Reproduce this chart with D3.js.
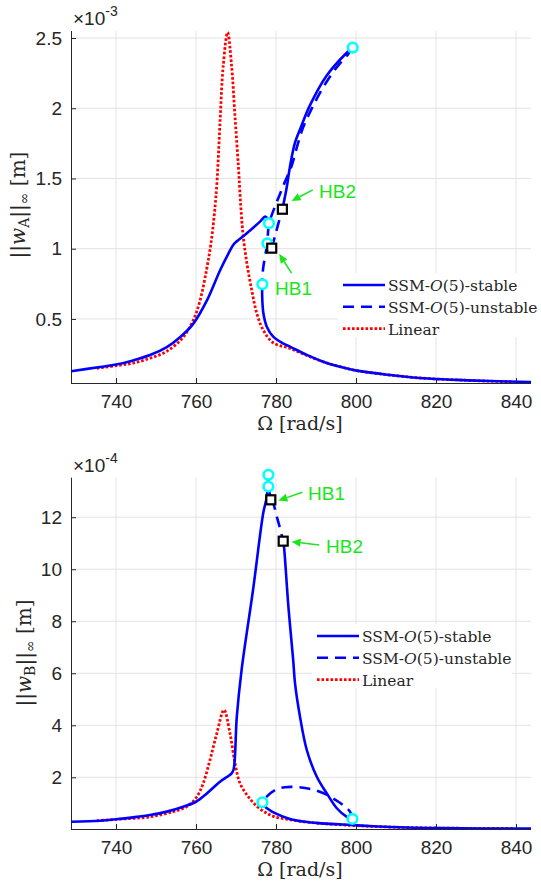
<!DOCTYPE html>
<html><head><meta charset="utf-8">
<script src="https://cdn.jsdelivr.net/npm/d3@7"></script>
<style>body{margin:0;background:#fff}svg{display:block}</style>
</head><body>
<svg id="c" width="541" height="891"></svg>
<script>
// ---------- data ----------
const omegaTicks = [740, 760, 780, 800, 820, 840];
const ampATicks = [0.5, 1, 1.5, 2, 2.5];
const ampBTicks = [2, 4, 6, 8, 10, 12];
const legendLabels = ["stable", "unstable", "Linear"];

// Top panel (||w_A||, x 1e-3 m)
const topLinear = [[735.2,0.149],[740,0.167],[744.3,0.186],[748.5,0.22],[752.7,0.27],[756.8,0.37],[759.3,0.49],[761,0.63],[762.7,0.86],[763.7,1.03],[764.6,1.25],[765.3,1.5],[766,1.9],[766.8,2.3],[767.9,2.54],[768.9,2.3],[769.75,1.94],[770.6,1.585],[771.2,1.3],[771.8,1.09],[772.7,0.9],[773.9,0.71],[775.2,0.54],[776.8,0.422],[779.3,0.33],[783.5,0.29],[787.7,0.24],[791.8,0.195],[796,0.16],[800.2,0.132],[808.5,0.101],[816.8,0.078],[825.2,0.066],[833.5,0.057],[839.3,0.052]];
const topStableLeft = [[728.75,0.128],[736,0.158],[740,0.175],[744.3,0.205],[748.5,0.243],[752.7,0.3],[756,0.37],[759.3,0.465],[762.7,0.63],[766,0.845],[768,0.96],[769.3,1.027],[770.3,1.055],[772.7,1.11],[776,1.193],[777.3,1.229],[777.9,1.215],[778.25,1.182]];
const topStableRight = [[776.55,0.747],[776.55,0.66],[776.85,0.54],[777.7,0.445],[779.3,0.374],[781.5,0.33],[783.5,0.303],[787.7,0.244],[791.8,0.196],[796,0.16],[800.2,0.132],[808.5,0.101],[816.8,0.078],[825.2,0.066],[833.5,0.058],[843.75,0.051]];
const topStableUpper = [[781.6,1.281],[782.7,1.44],[783.5,1.585],[784.7,1.75],[786.3,1.87],[788.3,2.01],[792.6,2.23],[797.5,2.39],[799.18,2.432]];
const topStableMid = [[777.83,1.039],[778.93,1.004]];
const topUnstableReturn = [[799.18,2.432],[797.9,2.38],[796.3,2.33],[794.6,2.27],[791.4,2.13],[788.8,1.99],[786.6,1.85],[785.0,1.7],[784.0,1.597],[783.0,1.526],[781.9,1.454],[780.9,1.383],[779.9,1.312],[778.95,1.241],[778.25,1.182],[778.0,1.113],[777.83,1.039],[777.25,0.942],[776.83,0.87],[776.6,0.806],[776.55,0.747]];
const topUnstableHB = [[778.93,1.004],[779.75,1.091],[780.5,1.17],[781.6,1.281]];
const topFolds = [[799.18,2.432],[778.25,1.182],[777.83,1.039],[776.58,0.747]];
const topHopf = [[778.93,1.004],[781.6,1.281]];

// Bottom panel (||w_B||, x 1e-4 m)
const botLinear = [[735.2,0.33],[740,0.38],[748.5,0.48],[754.3,0.68],[757.7,0.87],[760.2,1.25],[761.8,1.77],[763.5,2.67],[765.2,3.69],[767,4.59],[768.5,3.69],[769.75,2.54],[771,1.77],[773.1,1.25],[775.4,0.86],[777.7,0.62],[779.7,0.48],[783.1,0.38],[787,0.29],[791,0.23],[800,0.14],[810,0.08],[820,0.05],[830,0.035],[839.3,0.03]];
const botStableLeft = [[728.75,0.292],[736,0.33],[740,0.385],[744.3,0.46],[748.5,0.55],[752.7,0.68],[756.8,0.87],[760,1.06],[762.7,1.38],[766,1.83],[768.9,2.15],[769.4,2.3],[770.2,4.33],[771.4,6.13],[774.3,9.25],[776.8,12.15],[777.7,12.79],[778.1,13.63]];
const botStableMid = [[778.1,13.18],[778.7,12.67]];
const botUnstableFold = [[778.1,13.63],[778.05,13.4],[778.1,13.18]];
const botUnstableHB = [[778.7,12.67],[779.3,12.54],[780.2,12.02],[781,11.58],[781.8,11.08]];
const botStableUpper = [[781.8,11.08],[782,10.87],[783.1,8.56],[784.3,6.51],[784.75,5.62],[786,4.33],[787.7,3.05],[790.2,2.02],[792.7,1.38],[795.2,0.81],[797.7,0.48],[799.1,0.4]];
const botUnstableReturn = [[799.1,0.4],[798.5,0.68],[797.25,0.87],[795.6,1.06],[792.25,1.36],[788.9,1.54],[785.6,1.62],[782.25,1.62],[779.75,1.51],[777.25,1.19],[776.6,1.04]];
const botStableRight = [[776.6,1.04],[777.25,0.87],[779.75,0.62],[783.1,0.42],[787.25,0.29],[791.4,0.23],[798.9,0.165],[804.3,0.12],[812.7,0.07],[821,0.045],[843.75,0.025]];
const botFolds = [[778.1,13.63],[778.1,13.18],[776.6,1.04],[799.1,0.4]];
const botHopf = [[778.7,12.67],[781.8,11.08]];

// ---------- drawing ----------
const svg = d3.select("#c");
const BLUE = "#0000ff", RED = "#ff0000", GREEN = "#19e619", CYAN = "#00ffff", AX = "#262626";
const tickFont = "'Liberation Sans', Arial, sans-serif";
const serif = "'DejaVu Serif', 'Liberation Serif', serif";

function panel(cfg) {
  const x = d3.scaleLinear().domain([728.75, 843.75]).range([71, 531]);
  const y = d3.scaleLinear().domain(cfg.yDomain).range([cfg.bottom, cfg.top]);
  const g = svg.append("g");
  // grid
  g.append("g").selectAll("line").data(omegaTicks).join("line")
    .attr("x1", d => x(d)).attr("x2", d => x(d)).attr("y1", cfg.top).attr("y2", cfg.bottom)
    .attr("stroke", "#e3e3e3").attr("stroke-width", 1);
  g.append("g").selectAll("line").data(cfg.yTicks).join("line")
    .attr("x1", 71).attr("x2", 531).attr("y1", d => y(d)).attr("y2", d => y(d))
    .attr("stroke", "#e3e3e3").attr("stroke-width", 1);
  // axes
  const xAxis = d3.axisBottom(x).tickValues(omegaTicks).tickSizeInner(-5).tickSizeOuter(0).tickPadding(12);
  const xa = g.append("g").attr("transform", `translate(0,${cfg.bottom})`).call(xAxis);
  const yAxis = d3.axisLeft(y).tickValues(cfg.yTicks).tickFormat(d => String(d)).tickSizeInner(-5).tickSizeOuter(0).tickPadding(9);
  const ya = g.append("g").attr("transform", "translate(71,0)").call(yAxis);
  [xa, ya].forEach(a => {
    a.select(".domain").attr("stroke", AX).attr("stroke-width", 1);
    a.selectAll(".tick line").attr("stroke", AX);
    a.selectAll(".tick text").attr("fill", AX).style("font-family", tickFont).style("font-size", "19px");
  });
  ya.select(".domain").attr("d", `M0.5,${cfg.top}V${cfg.bottom}`);
  xa.select(".domain").attr("d", `M71,0.5H531`);

  const clip = "clip" + cfg.id;
  svg.append("clipPath").attr("id", clip).append("rect").attr("x", 71).attr("y", cfg.top - 10).attr("width", 460).attr("height", cfg.bottom - cfg.top + 10);
  const pg = g.append("g").attr("clip-path", `url(#${clip})`);
  const line = d3.line().x(d => x(d[0])).y(d => y(d[1])).curve(d3.curveCatmullRom.alpha(0.5));
  const draw = (data, color, dash, w) => pg.append("path").datum(data).attr("d", line)
    .attr("fill", "none").attr("stroke", color).attr("stroke-width", w)
    .attr("stroke-dasharray", dash).attr("stroke-linejoin", "round");
  draw(cfg.linear, RED, "2.6,1.9", 2.8);
  cfg.stable.forEach(s => draw(s, BLUE, null, 2.6));
  cfg.unstable.forEach(s => draw(s, BLUE, "11,7", 2.6));
  // markers
  g.append("g").selectAll("circle").data(cfg.folds).join("circle")
    .attr("cx", d => x(d[0])).attr("cy", d => y(d[1])).attr("r", 4.8)
    .attr("fill", "#fff").attr("stroke", CYAN).attr("stroke-width", 2.6);
  g.append("g").selectAll("rect").data(cfg.hopf).join("rect")
    .attr("x", d => x(d[0]) - 4.5).attr("y", d => y(d[1]) - 4.5).attr("width", 9).attr("height", 9)
    .attr("fill", "#fff").attr("stroke", "#000").attr("stroke-width", 2.2);
  // annotations
  cfg.notes.forEach(n => {
    const x1 = x(n.from[0]), y1 = y(n.from[1]), x2 = x(n.to[0]), y2 = y(n.to[1]);
    const ang = Math.atan2(y2 - y1, x2 - x1), L = 9, W = 4;
    const bx = x2 - L * Math.cos(ang), by = y2 - L * Math.sin(ang);
    g.append("line").attr("x1", x1).attr("y1", y1).attr("x2", bx).attr("y2", by)
      .attr("stroke", GREEN).attr("stroke-width", 1.5);
    g.append("path").attr("d", `M${x2},${y2}L${bx + W * Math.sin(ang)},${by - W * Math.cos(ang)}L${bx - W * Math.sin(ang)},${by + W * Math.cos(ang)}Z`)
      .attr("fill", GREEN);
    g.append("text").attr("x", x(n.at[0])).attr("y", y(n.at[1])).text(n.label)
      .attr("fill", GREEN).style("font-family", tickFont).style("font-size", "19px");
  });
  // exponent
  const ex = g.append("text").attr("x", 73).attr("y", cfg.top - 6).attr("fill", AX)
    .style("font-family", tickFont).style("font-size", "19px");
  ex.append("tspan").text("×10");
  ex.append("tspan").attr("dy", -9).style("font-size", "14px").text(cfg.exp);
  // x label
  const xl = g.append("text").attr("x", 300).attr("y", cfg.bottom + 47).attr("text-anchor", "middle")
    .attr("fill", AX).style("font-family", serif).style("font-size", "19px");
  xl.append("tspan").text("Ω [rad/s]");
  // y label
  const yl = g.append("text").attr("transform", `translate(${cfg.ylx},${cfg.ylc}) rotate(-90)`)
    .attr("text-anchor", "middle").attr("fill", AX).style("font-family", serif).style("font-size", "20px");
  yl.append("tspan").text("||");
  yl.append("tspan").style("font-style", "italic").text("w");
  yl.append("tspan").attr("dy", 4).style("font-size", "14px").text(cfg.sub);
  yl.append("tspan").attr("dy", -4).text("||");
  yl.append("tspan").attr("dy", 4).style("font-size", "14px").text("∞");
  yl.append("tspan").attr("dy", -4).text(" [m]");
  // legend
  const lg = g.append("g");
  lg.append("rect").attr("x", cfg.legX - 5).attr("y", cfg.legY - 12).attr("width", 200).attr("height", 64).attr("fill", "#fff");
  const styles = [[BLUE, null], [BLUE, "11,7"], [RED, "2.6,1.9"]];
  legendLabels.forEach((lab, i) => {
    const yy = cfg.legY + i * 21.8;
    lg.append("line").attr("x1", cfg.legX).attr("x2", cfg.legX + 42).attr("y1", yy).attr("y2", yy)
      .attr("stroke", styles[i][0]).attr("stroke-width", i == 2 ? 2.8 : 2.6).attr("stroke-dasharray", styles[i][1]);
    const t = lg.append("text").attr("x", cfg.legX + 45).attr("y", yy + 6).attr("fill", AX)
      .style("font-family", serif).style("font-size", "15.5px");
    if (i < 2) {
      t.append("tspan").text("SSM-");
      t.append("tspan").style("font-style", "italic").text("O");
      t.append("tspan").text("(5)-" + lab);
    } else t.text(lab);
  });
}

panel({id: "A", yDomain: [0.044, 2.55], top: 31, bottom: 383, yTicks: ampATicks,
  linear: topLinear, stable: [topStableLeft, topStableRight, topStableUpper, topStableMid],
  unstable: [topUnstableReturn, topUnstableHB], folds: topFolds, hopf: topHopf, exp: "-3", sub: "A",
  ylx: 25, ylc: 205, legX: 343, legY: 285,
  notes: [{label: "HB2", at: [790.75, 1.362], from: [789.2, 1.419], to: [783.9, 1.34]},
          {label: "HB1", at: [779.75, 0.671], from: [783.9, 0.826], to: [780.8, 0.963]}]});

panel({id: "B", yDomain: [0.012, 13.52], top: 477.7, bottom: 829, yTicks: ampBTicks,
  linear: botLinear, stable: [botStableLeft, botStableRight, botStableUpper, botStableMid],
  unstable: [botUnstableReturn, botUnstableHB, botUnstableFold], folds: botFolds, hopf: botHopf, exp: "-4", sub: "B",
  ylx: 31, ylc: 653, legX: 317, legY: 636,
  notes: [{label: "HB1", at: [788, 12.66], from: [786.6, 12.96], to: [780.6, 12.64]},
          {label: "HB2", at: [792.5, 10.62], from: [790.8, 10.93], to: [783.9, 11.06]}]});
</script>
</body></html>
